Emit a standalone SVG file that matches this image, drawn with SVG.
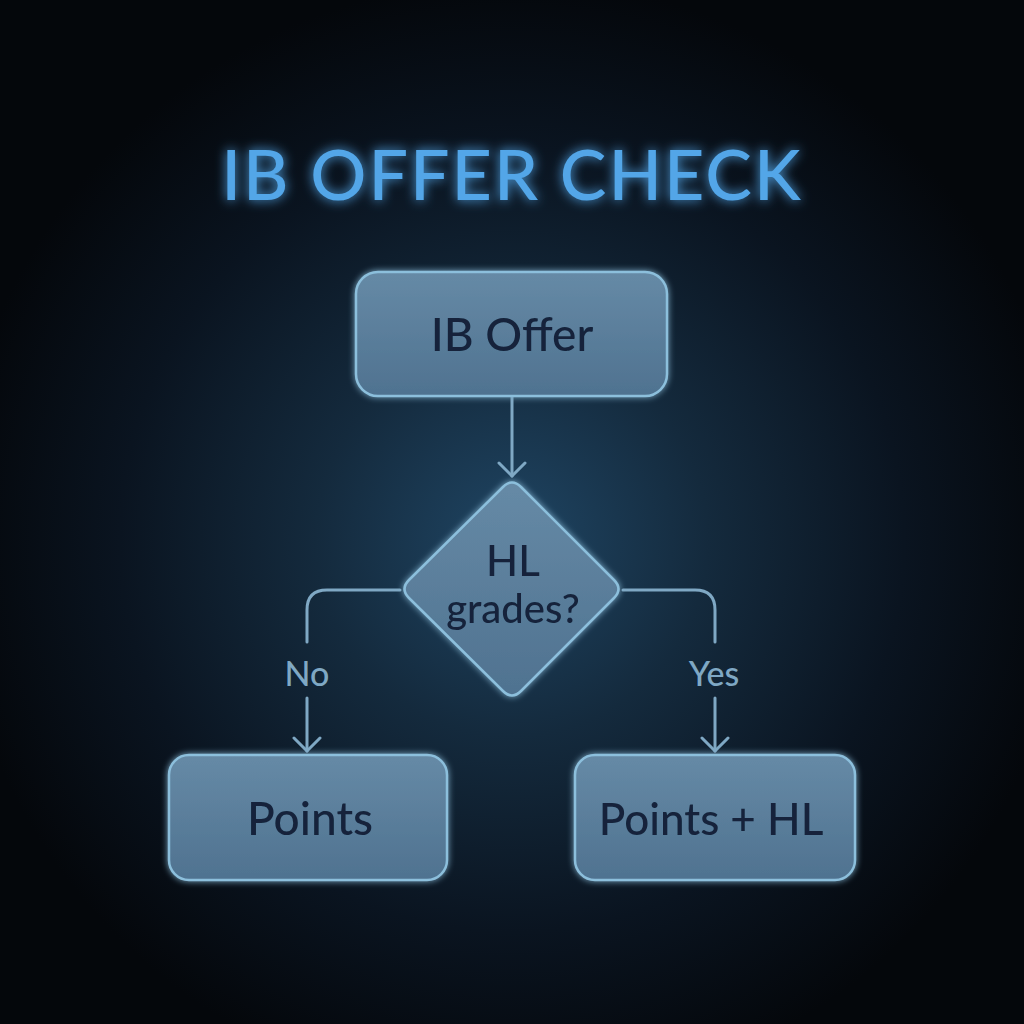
<svg xmlns="http://www.w3.org/2000/svg" width="1024" height="1024" viewBox="0 0 1024 1024">
<defs>
<radialGradient id="bg" cx="512" cy="540" r="560" gradientUnits="userSpaceOnUse">
<stop offset="0" stop-color="#1f4563"/>
<stop offset="0.35" stop-color="#142a3d"/>
<stop offset="0.7" stop-color="#0a1420"/>
<stop offset="1" stop-color="#04070b"/>
</radialGradient>
<linearGradient id="nodeFill" x1="0" y1="0" x2="0" y2="1">
<stop offset="0" stop-color="#668aa6"/>
<stop offset="1" stop-color="#4f7290"/>
</linearGradient>
<filter id="glow" x="-30%" y="-30%" width="160%" height="160%">
<feGaussianBlur stdDeviation="6" result="b"/>
<feMerge><feMergeNode in="b"/><feMergeNode in="SourceGraphic"/></feMerge>
</filter>
<filter id="soft" x="-20%" y="-20%" width="140%" height="140%">
<feGaussianBlur stdDeviation="3" result="b"/>
<feMerge><feMergeNode in="b"/><feMergeNode in="SourceGraphic"/></feMerge>
</filter>
<marker id="chev" viewBox="0 0 30 30" refX="24" refY="15" markerWidth="30" markerHeight="30" markerUnits="userSpaceOnUse" orient="auto">
<path d="M11,2 L24,15 L11,28" fill="none" stroke="#7fa8c4" stroke-width="3" stroke-linecap="round" stroke-linejoin="round"/>
</marker>
<style>
.node{fill:url(#nodeFill);stroke:#8cbfdc;stroke-width:2.5}
.lbl{font-family:"Lato","Noto Sans",sans-serif;font-size:46px;font-weight:500;fill:#13233a;text-anchor:middle}
.conn{fill:none;stroke:#7fa8c4;stroke-width:3;stroke-linecap:round}
.edge{font-family:"Lato","Noto Sans",sans-serif;font-size:34px;font-weight:500;fill:#7fa8c4;text-anchor:middle}
</style>
</defs>
<rect width="1024" height="1024" fill="url(#bg)"/>
<text x="512" y="200" font-family="Lato,'Noto Sans',sans-serif" font-size="70" font-weight="500" fill="#52a6e8" text-anchor="middle" letter-spacing="2" filter="url(#glow)">IB OFFER CHECK</text>
<g id="connectors">
<path class="conn" d="M512,396 V476" marker-end="url(#chev)"/>
<path class="conn" d="M400,590 H327 Q307,590 307,610 V642"/>
<path class="conn" d="M307,698 V751" marker-end="url(#chev)"/>
<path class="conn" d="M623,590 H695 Q715,590 715,610 V642"/>
<path class="conn" d="M715,698 V751" marker-end="url(#chev)"/>
<text class="edge" x="307" y="686">No</text>
<text class="edge" x="714" y="686">Yes</text>
</g>
<g id="ib-offer" filter="url(#soft)">
<rect class="node" x="356" y="272" width="311" height="124" rx="22"/>
<text class="lbl" x="512" y="351">IB Offer</text>
</g>
<g id="hl-grades" filter="url(#soft)">
<path class="node" d="M503,487 Q512,478 521,487 L614,580 Q623,589 614,598 L521,691 Q512,700 503,691 L409,598 Q400,589 409,580 Z"/>
<text class="lbl" x="513" y="576" style="font-size:42px">HL</text>
<text class="lbl" x="513" y="623" style="font-size:40px">grades?</text>
</g>
<g id="points" filter="url(#soft)">
<rect class="node" x="169" y="755" width="278" height="125" rx="20"/>
<text class="lbl" x="310" y="835">Points</text>
</g>
<g id="points-hl" filter="url(#soft)">
<rect class="node" x="575" y="755" width="280" height="125" rx="20"/>
<text class="lbl" x="711" y="835" style="font-size:44px">Points + HL</text>
</g>
</svg>
